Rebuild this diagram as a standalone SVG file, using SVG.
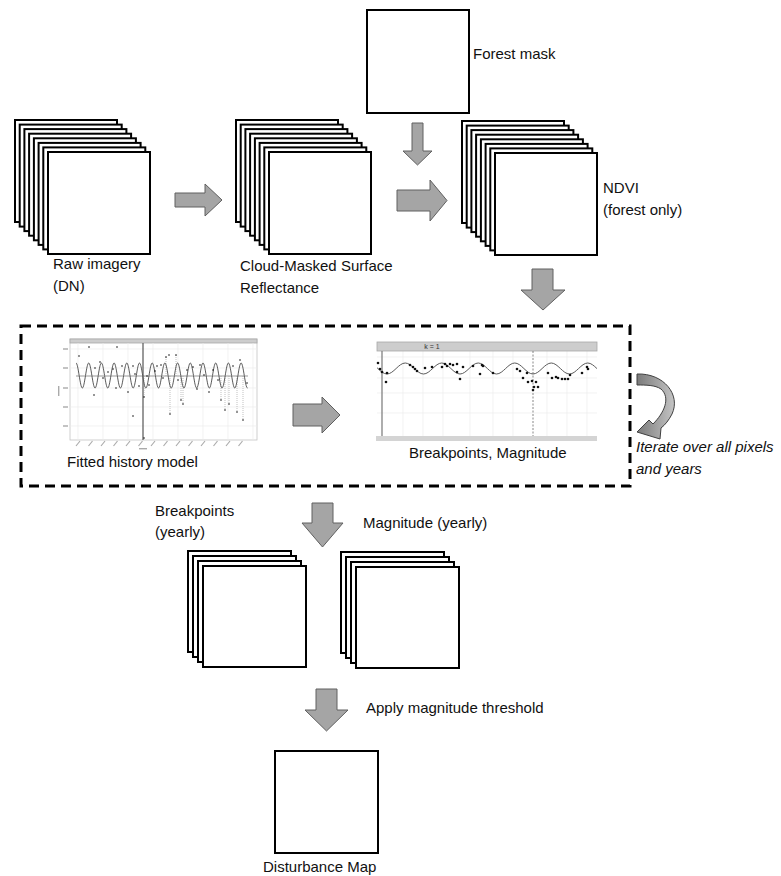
<svg xmlns="http://www.w3.org/2000/svg" width="781" height="876" viewBox="0 0 781 876">
  <style>
    .sheet{fill:#fff;stroke:#000;stroke-width:2}
    .lbl{font-family:"Liberation Sans",Arial,sans-serif;font-size:15px;fill:#111}
    .it{font-style:italic}
    .blk{fill:#a5a5a5;stroke:#606060;stroke-width:1}
    .grid{stroke:#ececec;stroke-width:0.7}
    .wave{fill:none;stroke:#5a5a5a;stroke-width:1}
    .pt{fill:#111}
    .res{stroke:#999;stroke-width:0.6;stroke-dasharray:1 1}
    .tick{fill:#aaa}
    .strip{fill:#cdcdcd;stroke:#a8a8a8;stroke-width:0.8}
  </style>
  <defs>
    <!-- eight stacked image tiles, back to front -->
    <g id="stack8">
      <rect class="sheet" x="0" y="0" width="102" height="102"/>
      <rect class="sheet" x="4.7" y="4.6" width="102" height="102"/>
      <rect class="sheet" x="9.4" y="9.1" width="102" height="102"/>
      <rect class="sheet" x="14.1" y="13.7" width="102" height="102"/>
      <rect class="sheet" x="18.9" y="18.3" width="102" height="102"/>
      <rect class="sheet" x="23.6" y="22.9" width="102" height="102"/>
      <rect class="sheet" x="28.3" y="27.4" width="102" height="102"/>
      <rect class="sheet" x="33" y="32" width="102" height="102"/>
    </g>
    <!-- four stacked yearly tiles -->
    <g id="stack4">
      <rect class="sheet" x="0" y="0" width="103" height="101"/>
      <rect class="sheet" x="5" y="5" width="103" height="101"/>
      <rect class="sheet" x="10" y="10" width="103" height="101"/>
      <rect class="sheet" x="15" y="15" width="103" height="101"/>
    </g>
    <linearGradient id="curlFill" x1="0" y1="0" x2="1" y2="0">
      <stop offset="0" stop-color="#7a7a7a"/>
      <stop offset="1" stop-color="#c4c4c4"/>
    </linearGradient>
    <clipPath id="bpClip"><rect x="377" y="351" width="220" height="85"/></clipPath>
  </defs>

  <!-- top row -->
  <g id="forest-mask">
    <rect class="sheet" x="367" y="10" width="102" height="103"/>
    <text class="lbl" x="473" y="59">Forest mask</text>
  </g>

  <g id="raw-imagery">
    <use href="#stack8" transform="translate(15,120)"/>
    <text class="lbl" x="53" y="269">Raw imagery</text>
    <text class="lbl" x="53" y="291">(DN)</text>
  </g>

  <g id="surface-reflectance">
    <use href="#stack8" transform="translate(236,120)"/>
    <text class="lbl" x="240" y="271">Cloud-Masked Surface</text>
    <text class="lbl" x="240" y="293">Reflectance</text>
  </g>

  <g id="ndvi">
    <use href="#stack8" transform="translate(462,121)"/>
    <text class="lbl" x="603" y="193">NDVI</text>
    <text class="lbl" x="603" y="215">(forest only)</text>
  </g>

  <!-- per-pixel processing block -->
  <g id="pixel-loop">
    <rect x="21" y="326" width="609" height="160" fill="none" stroke="#000" stroke-width="3" stroke-dasharray="10 6"/>
  </g>

  <g id="fitted-history">
    <!-- frame and facet strip -->
    <rect x="70" y="339" width="187" height="101" fill="#fff" stroke="#c4c4c4" stroke-width="0.8"/>
    <rect class="strip" x="70" y="339" width="187" height="4"/>
    <!-- grid -->
    <g class="grid">
      <line x1="70" y1="349" x2="257" y2="349"/>
      <line x1="70" y1="368" x2="257" y2="368"/>
      <line x1="70" y1="388" x2="257" y2="388"/>
      <line x1="70" y1="407" x2="257" y2="407"/>
      <line x1="70" y1="426" x2="257" y2="426"/>
      <line x1="78" y1="343" x2="78" y2="440"/>
      <line x1="103" y1="343" x2="103" y2="440"/>
      <line x1="128" y1="343" x2="128" y2="440"/>
      <line x1="153" y1="343" x2="153" y2="440"/>
      <line x1="178" y1="343" x2="178" y2="440"/>
      <line x1="203" y1="343" x2="203" y2="440"/>
      <line x1="228" y1="343" x2="228" y2="440"/>
      <line x1="253" y1="343" x2="253" y2="440"/>
    </g>
    <!-- axis tick marks -->
    <g class="tick">
      <rect x="63" y="348.3" width="5" height="1.4"/>
      <rect x="63" y="367.3" width="5" height="1.4"/>
      <rect x="63" y="387.3" width="5" height="1.4"/>
      <rect x="63" y="406.3" width="5" height="1.4"/>
      <rect x="63" y="425.3" width="5" height="1.4"/>
      <rect x="58" y="386" width="1.4" height="10"/>
      <rect x="139" y="448" width="8" height="1.4"/>
    </g>
    <g stroke="#aaa" stroke-width="1.2">
      <line x1="76" y1="446" x2="80" y2="441"/>
      <line x1="88.5" y1="446" x2="92.5" y2="441"/>
      <line x1="101" y1="446" x2="105" y2="441"/>
      <line x1="113.5" y1="446" x2="117.5" y2="441"/>
      <line x1="126" y1="446" x2="130" y2="441"/>
      <line x1="138.5" y1="446" x2="142.5" y2="441"/>
      <line x1="151" y1="446" x2="155" y2="441"/>
      <line x1="163.5" y1="446" x2="167.5" y2="441"/>
      <line x1="176" y1="446" x2="180" y2="441"/>
      <line x1="188.5" y1="446" x2="192.5" y2="441"/>
      <line x1="201" y1="446" x2="205" y2="441"/>
      <line x1="213.5" y1="446" x2="217.5" y2="441"/>
      <line x1="226" y1="446" x2="230" y2="441"/>
      <line x1="238.5" y1="446" x2="242.5" y2="441"/>
    </g>
    <!-- mean level and break line -->
    <line x1="76" y1="376" x2="248" y2="376" stroke="#9a9a9a" stroke-width="1.2"/>
    <line x1="143" y1="343" x2="143" y2="440" stroke="#555" stroke-width="1.2"/>
    <!-- residuals -->
    <g class="res">
      <line x1="166" y1="357" x2="166" y2="376"/>
      <line x1="170" y1="376" x2="170" y2="414"/>
      <line x1="176" y1="355" x2="176" y2="376"/>
      <line x1="181" y1="376" x2="181" y2="400"/>
      <line x1="183" y1="376" x2="183" y2="404"/>
      <line x1="221" y1="376" x2="221" y2="400"/>
      <line x1="225" y1="376" x2="225" y2="410"/>
      <line x1="229" y1="376" x2="229" y2="404"/>
      <line x1="237" y1="376" x2="237" y2="412"/>
      <line x1="243" y1="376" x2="243" y2="420"/>
      <line x1="144" y1="376" x2="144" y2="397"/>
    </g>
    <!-- seasonal fit -->
    <path class="wave" d="M76,363 C78.3,363 80.05,388 82.35,388 S86.4,363 88.7,363 S92.75,388 95.05,388 S99.1,363 101.4,363 S105.45,388 107.75,388 S111.8,363 114.1,363 S118.15,388 120.45,388 S124.5,363 126.8,363 S130.85,388 133.15,388 S137.2,363 139.5,363 S143.55,388 145.85,388 S149.9,363 152.2,363 S156.25,388 158.55,388 S162.6,363 164.9,363 S168.95,388 171.25,388 S175.3,363 177.6,363 S181.65,388 183.95,388 S188,363 190.3,363 S194.35,388 196.65,388 S200.7,363 203,363 S207.05,388 209.35,388 S213.4,363 215.7,363 S219.75,388 222.05,388 S226.1,363 228.4,363 S232.45,388 234.75,388 S238.8,363 241.1,363 S245.15,388 247.45,388"/>
    <!-- observations -->
    <g class="pt">
      <circle cx="79" cy="356" r="0.8"/><circle cx="89" cy="347" r="0.8"/>
      <circle cx="95" cy="368" r="0.8"/><circle cx="94" cy="395" r="0.8"/>
      <circle cx="100" cy="362" r="0.8"/><circle cx="103" cy="378" r="0.8"/>
      <circle cx="108" cy="372" r="0.8"/><circle cx="113" cy="369" r="0.8"/>
      <circle cx="116" cy="388" r="0.8"/><circle cx="122" cy="366" r="0.8"/>
      <circle cx="117" cy="347" r="0.8"/><circle cx="128" cy="392" r="0.8"/>
      <circle cx="133" cy="366" r="0.8"/><circle cx="135" cy="374" r="0.8"/>
      <circle cx="133" cy="416" r="0.8"/><circle cx="139" cy="386" r="0.8"/>
      <circle cx="144" cy="397" r="0.8"/><circle cx="144" cy="438" r="0.8"/>
      <circle cx="147" cy="376" r="0.8"/><circle cx="149" cy="385" r="0.8"/>
      <circle cx="155" cy="371" r="0.8"/><circle cx="157" cy="366" r="0.8"/>
      <circle cx="161" cy="365" r="0.8"/><circle cx="163" cy="378" r="0.8"/>
      <circle cx="166" cy="357" r="0.8"/><circle cx="169" cy="355" r="0.8"/>
      <circle cx="170" cy="414" r="0.8"/><circle cx="176" cy="355" r="0.8"/>
      <circle cx="178" cy="380" r="0.8"/><circle cx="181" cy="400" r="0.8"/>
      <circle cx="183" cy="404" r="0.8"/><circle cx="187" cy="370" r="0.8"/>
      <circle cx="193" cy="367" r="0.8"/><circle cx="197" cy="389" r="0.8"/>
      <circle cx="200" cy="365" r="0.8"/><circle cx="204" cy="375" r="0.8"/>
      <circle cx="209" cy="392" r="0.8"/><circle cx="213" cy="370" r="0.8"/>
      <circle cx="218" cy="380" r="0.8"/><circle cx="221" cy="400" r="0.8"/>
      <circle cx="225" cy="410" r="0.8"/><circle cx="229" cy="404" r="0.8"/>
      <circle cx="233" cy="366" r="0.8"/><circle cx="237" cy="412" r="0.8"/>
      <circle cx="240" cy="360" r="0.8"/><circle cx="243" cy="420" r="0.8"/>
      <circle cx="247" cy="383" r="0.8"/>
    </g>
    <text class="lbl" x="67" y="467">Fitted history model</text>
  </g>

  <g id="breakpoints-plot">
    <rect x="377" y="351" width="220" height="85" fill="#fff"/>
    <g class="grid">
      <line x1="377" y1="357" x2="597" y2="357"/>
      <line x1="377" y1="378" x2="597" y2="378"/>
      <line x1="377" y1="393" x2="597" y2="393"/>
      <line x1="377" y1="413" x2="597" y2="413"/>
      <line x1="403" y1="351" x2="403" y2="436"/>
      <line x1="423" y1="351" x2="423" y2="436"/>
      <line x1="443" y1="351" x2="443" y2="436"/>
      <line x1="470" y1="351" x2="470" y2="436"/>
      <line x1="493" y1="351" x2="493" y2="436"/>
      <line x1="513" y1="351" x2="513" y2="436"/>
      <line x1="547" y1="351" x2="547" y2="436"/>
      <line x1="567" y1="351" x2="567" y2="436"/>
      <line x1="587" y1="351" x2="587" y2="436"/>
    </g>
    <rect class="strip" x="377" y="342" width="220" height="9"/>
    <text x="432" y="349" font-family="Liberation Sans, Arial, sans-serif" font-size="7" fill="#333" text-anchor="middle">k = 1</text>
    <line x1="382" y1="351" x2="382" y2="436" stroke="#777" stroke-width="1.2"/>
    <line x1="533" y1="351" x2="533" y2="436" stroke="#555" stroke-width="0.7" stroke-dasharray="2 1.5"/>
    <rect x="376" y="436" width="221" height="5" fill="#d4d4d4"/>
    <path class="wave" clip-path="url(#bpClip)" stroke="#7a7a7a" d="M368.75,363 C375.35,363 380.4,374 387,374 S398.65,363 405.25,363 S416.9,374 423.5,374 S435.15,363 441.75,363 S453.4,374 460,374 S471.65,363 478.25,363 S489.9,374 496.5,374 S508.15,363 514.75,363 S526.4,374 533,374 S544.65,363 551.25,363 S562.9,374 569.5,374 S581.15,363 587.75,363 S599.4,374 606,374"/>
    <g class="pt">
      <circle cx="378" cy="363" r="1.3"/><circle cx="380" cy="369" r="1.3"/>
      <circle cx="382" cy="372" r="1.3"/><circle cx="387" cy="373" r="1.3"/>
      <circle cx="386" cy="382" r="1.3"/><circle cx="410" cy="365" r="1.3"/>
      <circle cx="413" cy="367" r="1.3"/><circle cx="415" cy="369" r="1.3"/>
      <circle cx="417" cy="371" r="1.3"/><circle cx="425" cy="368" r="1.3"/>
      <circle cx="432" cy="367" r="1.3"/><circle cx="442" cy="367" r="1.3"/>
      <circle cx="445" cy="364" r="1.3"/><circle cx="447" cy="366" r="1.3"/>
      <circle cx="450" cy="364" r="1.3"/><circle cx="453" cy="365" r="1.3"/>
      <circle cx="457" cy="364" r="1.3"/><circle cx="457" cy="372" r="1.3"/>
      <circle cx="460" cy="379" r="1.3"/><circle cx="463" cy="367" r="1.3"/>
      <circle cx="473" cy="366" r="1.3"/><circle cx="480" cy="374" r="1.3"/>
      <circle cx="482" cy="365" r="1.3"/><circle cx="483" cy="366" r="1.3"/>
      <circle cx="493" cy="373" r="1.3"/><circle cx="517" cy="369" r="1.3"/>
      <circle cx="520" cy="371" r="1.3"/><circle cx="523" cy="378" r="1.3"/>
      <circle cx="527" cy="373" r="1.3"/><circle cx="528" cy="382" r="1.3"/>
      <circle cx="532" cy="381" r="1.3"/><circle cx="533" cy="390" r="1.3"/>
      <circle cx="534" cy="387" r="1.3"/><circle cx="536" cy="382" r="1.3"/>
      <circle cx="538" cy="387" r="1.3"/><circle cx="548" cy="373" r="1.3"/>
      <circle cx="552" cy="378" r="1.3"/><circle cx="556" cy="377" r="1.3"/>
      <circle cx="558" cy="378" r="1.3"/><circle cx="562" cy="379" r="1.3"/>
      <circle cx="565" cy="379" r="1.3"/><circle cx="568" cy="379" r="1.3"/>
      <circle cx="570" cy="375" r="1.3"/><circle cx="582" cy="373" r="1.3"/>
      <circle cx="587" cy="367" r="1.3"/><circle cx="588" cy="369" r="1.3"/>
    </g>
    <text class="lbl" x="409" y="458">Breakpoints, Magnitude</text>
  </g>

  <g id="iterate-note">
    <text class="lbl it" x="636" y="452">Iterate over all pixels</text>
    <text class="lbl it" x="636" y="474">and years</text>
  </g>

  <!-- yearly outputs -->
  <g id="breakpoints-yearly">
    <use href="#stack4" transform="translate(188,551)"/>
    <text class="lbl" x="155" y="516">Breakpoints</text>
    <text class="lbl" x="155" y="537">(yearly)</text>
  </g>

  <g id="magnitude-yearly">
    <use href="#stack4" transform="translate(341,552)"/>
    <text class="lbl" x="363" y="528">Magnitude (yearly)</text>
  </g>

  <g id="disturbance-map">
    <rect class="sheet" x="275" y="751" width="103" height="102"/>
    <text class="lbl" x="263" y="872">Disturbance Map</text>
  </g>

  <text class="lbl" x="366" y="713">Apply magnitude threshold</text>

  <!-- block arrows -->
  <g id="connectors">
    <polygon class="blk" points="175,193 205,193 205,184 222,200 205,216 205,207 175,207"/>
    <polygon class="blk" points="397,190 430,190 430,180 447,200.5 430,221 430,211 397,211"/>
    <polygon class="blk" points="412,123 423,123 423,151 432,151 417.5,165 403,151 412,151"/>
    <polygon class="blk" points="532,269 553,269 553,290 565,290 543,310 521,290 532,290"/>
    <polygon class="blk" points="293,404 322,404 322,397 340,415 322,433 322,426 293,426"/>
    <polygon class="blk" points="312,503 333,503 333,523 343,523 322.5,547 302,523 312,523"/>
    <polygon class="blk" points="316,689 337,689 337,710 348,710 326.5,731 305,710 316,710"/>
    <!-- curved loop-back arrow -->
    <path fill="url(#curlFill)" stroke="#404040" stroke-width="1" d="M637,374 C664,373 681,395 672,414 C669,420 665,425 661,428 L660,439 L637,432 L649,420 L653,424 C664,413 671,398 661,389 C655,385 646,385 637,385 Z"/>
  </g>
</svg>
